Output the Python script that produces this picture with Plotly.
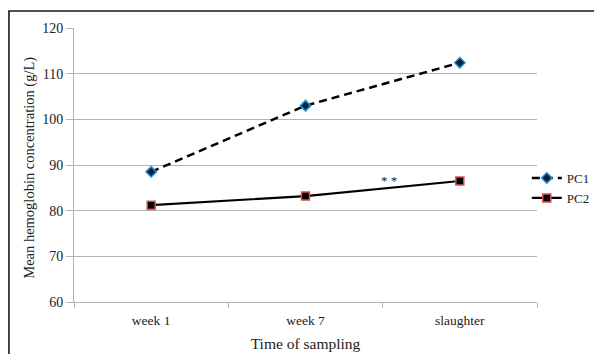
import plotly.graph_objects as go

categories = ["week 1", "week 7", "slaughter"]
pc1 = [88.5, 103.0, 112.4]
pc2 = [81.2, 83.2, 86.5]
y_ticks = [60, 70, 80, 90, 100, 110, 120]

FONT = "Liberation Serif"
TXT = "#222222"
GRID = "#b4b4b4"

fig = go.Figure()
fig.add_trace(go.Scatter(
    x=categories, y=pc1, name="PC1", mode="lines+markers",
    line=dict(color="black", width=2.5, dash="8px,5px"),
    marker=dict(symbol="diamond", size=8, color="#0b2236",
                line=dict(color="#1f8fd6", width=1.5)),
))
fig.add_trace(go.Scatter(
    x=categories, y=pc2, name="PC2", mode="lines+markers",
    line=dict(color="black", width=2.2),
    marker=dict(symbol="square", size=8, color="black",
                line=dict(color="#e05050", width=1.5)),
))

fig.add_annotation(x=1.54, y=86.7, xref="x", yref="y", text="* *",
                   showarrow=False, font=dict(family=FONT, size=13, color=TXT))
fig.add_annotation(x=-0.095, y=0.49, xref="paper", yref="paper",
                   xanchor="center", yanchor="middle",
                   text="Mean hemoglobin concentration (g/L)", textangle=-90,
                   showarrow=False, font=dict(family=FONT, size=14.5, color=TXT))

# outer frame
fig.add_shape(type="rect", xref="paper", yref="paper",
              x0=-0.1405, y0=-0.3, x1=1.3, y1=1.062,
              line=dict(color="#1a1a1a", width=1.6), layer="below")

fig.update_layout(
    width=602, height=346,
    margin=dict(l=66, r=73, t=20, b=52, autoexpand=False),
    paper_bgcolor="white", plot_bgcolor="white",
    font=dict(family=FONT, size=13, color=TXT),
    showlegend=True,
    legend=dict(x=0.978, xanchor="left", y=0.507, yanchor="top",
                font=dict(family=FONT, size=13, color=TXT),
                bgcolor="rgba(0,0,0,0)", tracegroupgap=0, itemwidth=30),
    xaxis=dict(type="category", categoryorder="array", categoryarray=categories,
               range=[-0.5, 2.5], showgrid=False, tickson="boundaries",
               ticks="outside", ticklen=5, tickcolor=GRID, showline=True,
               linecolor=GRID, linewidth=1, ticklabelstandoff=6,
               tickfont=dict(family=FONT, size=13.5, color=TXT),
               title=dict(text="Time of sampling", standoff=10,
                          font=dict(family=FONT, size=15.5, color=TXT))),
    yaxis=dict(range=[60, 120], tickvals=y_ticks, showgrid=True, gridcolor=GRID,
               gridwidth=1, zeroline=False, ticks="outside", ticklen=7,
               tickcolor=GRID, showline=True, linecolor=GRID, linewidth=1,
               tickfont=dict(family=FONT, size=14, color=TXT)),
)

fig.write_html("out.html")
